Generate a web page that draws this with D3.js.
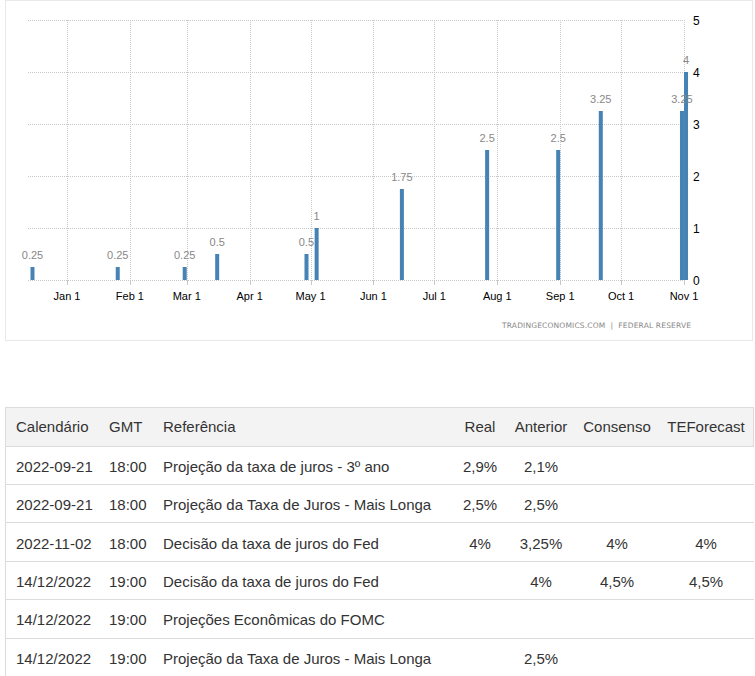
<!DOCTYPE html>
<html>
<head>
<meta charset="utf-8">
<script src="https://cdn.jsdelivr.net/npm/d3@7"></script>
<style>
  html, body { margin: 0; padding: 0; background: #fff; }
  svg { display: block; }
</style>
</head>
<body>
<div id="chart"></div>
<script>
// ---- Chart data ----
const barDates = ["2021-12-15","2022-01-26","2022-02-28","2022-03-16","2022-04-29","2022-05-04",
                  "2022-06-15","2022-07-27","2022-08-31","2022-09-21","2022-10-31","2022-11-02"];
const barValues = [0.25, 0.25, 0.25, 0.5, 0.5, 1, 1.75, 2.5, 2.5, 3.25, 3.25, 4];
const xTickDates = ["2022-01-01","2022-02-01","2022-03-01","2022-04-01","2022-05-01","2022-06-01",
                    "2022-07-01","2022-08-01","2022-09-01","2022-10-01","2022-11-01"];
const xTickLabels = ["Jan 1","Feb 1","Mar 1","Apr 1","May 1","Jun 1","Jul 1","Aug 1","Sep 1","Oct 1","Nov 1"];
const yTicks = [0, 1, 2, 3, 4, 5];
const sourceText = "TRADINGECONOMICS.COM  |  FEDERAL RESERVE";

// ---- Table data ----
const tableHeader = ["Calendário","GMT","Referência","Real","Anterior","Consenso","TEForecast"];
const tableDates = ["2022-09-21","2022-09-21","2022-11-02","14/12/2022","14/12/2022","14/12/2022"];
const tableTimes = ["18:00","18:00","18:00","19:00","19:00","19:00"];
const tableEvents = ["Projeção da taxa de juros - 3º ano","Projeção da Taxa de Juros - Mais Longa",
                     "Decisão da taxa de juros do Fed","Decisão da taxa de juros do Fed",
                     "Projeções Econômicas do FOMC","Projeção da Taxa de Juros - Mais Longa"];
const tableReal = ["2,9%","2,5%","4%","","",""];
const tablePrev = ["2,1%","2,5%","3,25%","4%","","2,5%"];
const tableCons = ["","","4%","4,5%","",""];
const tableFc   = ["","","4%","4,5%","",""];

const W = 755, H = 676;
const parse = d3.utcParse("%Y-%m-%d");
const svg = d3.select("#chart").append("svg").attr("width", W).attr("height", H);

// Chart frame
svg.append("rect").attr("x", 5.5).attr("y", 0.5).attr("width", 747).attr("height", 340)
  .attr("fill", "#fff").attr("stroke", "#e8e8e8");

const plotL = 28, plotR = 686, plotT = 20, plotB = 280;
const x = d3.scaleUtc().domain([parse("2022-01-01"), parse("2022-11-01")]).range([67, 684]);
const y = d3.scaleLinear().domain([0, 5]).range([plotB, plotT]);

const grid = svg.append("g").attr("stroke", "#c8c8c8").attr("stroke-dasharray", "1,1");
grid.selectAll("line.h").data(yTicks).join("line")
  .attr("x1", plotL).attr("x2", plotR)
  .attr("y1", d => Math.round(y(d)) + 0.5).attr("y2", d => Math.round(y(d)) + 0.5);
grid.selectAll("line.v").data(xTickDates).join("line")
  .attr("x1", d => Math.round(x(parse(d))) + 0.5).attr("x2", d => Math.round(x(parse(d))) + 0.5)
  .attr("y1", plotT).attr("y2", plotB);
svg.append("g").attr("stroke", "#c8c8c8").selectAll("line").data(xTickDates).join("line")
  .attr("x1", d => Math.round(x(parse(d))) + 0.5).attr("x2", d => Math.round(x(parse(d))) + 0.5)
  .attr("y1", plotB).attr("y2", plotB + 5);

svg.append("g").selectAll("text").data(xTickDates).join("text")
  .attr("x", d => x(parse(d))).attr("y", 300)
  .attr("text-anchor", "middle")
  .attr("font-family", "Liberation Sans, Arial, sans-serif").attr("font-size", 11).attr("fill", "#000")
  .text((d, i) => xTickLabels[i]);

svg.append("g").selectAll("text").data(yTicks).join("text")
  .attr("x", 693).attr("y", d => y(d) + 5)
  .attr("font-family", "Liberation Sans, Arial, sans-serif").attr("font-size", 12).attr("fill", "#000")
  .text(d => d);

const bars = barDates.map((d, i) => ({ date: parse(d), value: barValues[i] }));
svg.append("g").selectAll("rect").data(bars).join("rect")
  .attr("x", d => x(d.date) - 2).attr("width", 4)
  .attr("y", d => y(d.value)).attr("height", d => y(0) - y(d.value))
  .attr("fill", "#4682b4");

svg.append("g").selectAll("text").data(bars).join("text")
  .attr("x", d => x(d.date)).attr("y", d => y(d.value) - 8)
  .attr("text-anchor", "middle")
  .attr("font-family", "Liberation Sans, Arial, sans-serif").attr("font-size", 11).attr("fill", "#888")
  .text(d => d.value);

svg.append("text").attr("x", 502).attr("y", 328)
  .attr("font-family", "DejaVu Sans, Verdana, sans-serif").attr("font-size", 7.5).attr("fill", "#888")
  .attr("textLength", 189).attr("lengthAdjust", "spacing")
  .style("white-space", "pre")
  .text(sourceText);

// ---- Table ----
const tblTop = 407, headBottom = 446, rowH = 38.4, tblL = 5, tblR = 754;
const tg = svg.append("g");
tg.append("rect").attr("x", tblL + 0.5).attr("y", tblTop + 0.5).attr("width", tblR - tblL - 1).attr("height", headBottom - tblTop)
  .attr("fill", "#f3f3f3").attr("stroke", "#dcdcdc");
const rows = tableDates.map((d, i) => [d, tableTimes[i], tableEvents[i], tableReal[i], tablePrev[i], tableCons[i], tableFc[i]]);
tg.selectAll("line.row").data(rows).join("line")
  .attr("x1", tblL).attr("x2", tblR)
  .attr("y1", (d, i) => Math.floor(headBottom + (i + 1) * rowH) + 0.5)
  .attr("y2", (d, i) => Math.floor(headBottom + (i + 1) * rowH) + 0.5)
  .attr("stroke", "#dcdcdc");
tg.append("line").attr("x1", tblL + 0.5).attr("x2", tblL + 0.5).attr("y1", tblTop).attr("y2", H)
  .attr("stroke", "#dcdcdc");

const colX = [16, 109, 163, 480, 541, 617, 706];
const colAnchor = ["start", "start", "start", "middle", "middle", "middle", "middle"];
const font = "Liberation Sans, Arial, sans-serif";

tg.selectAll("text.head").data(tableHeader).join("text")
  .attr("x", (d, i) => colX[i]).attr("y", tblTop + 25.3)
  .attr("text-anchor", (d, i) => colAnchor[i])
  .attr("font-family", font).attr("font-size", 15).attr("fill", "#333")
  .text(d => d);

rows.forEach((r, ri) => {
  tg.append("g").selectAll("text").data(r).join("text")
    .attr("x", (d, i) => colX[i]).attr("y", headBottom + ri * rowH + 25.7)
    .attr("text-anchor", (d, i) => colAnchor[i])
    .attr("font-family", font).attr("font-size", 15).attr("fill", "#333")
    .text(d => d);
});
</script>
</body>
</html>
